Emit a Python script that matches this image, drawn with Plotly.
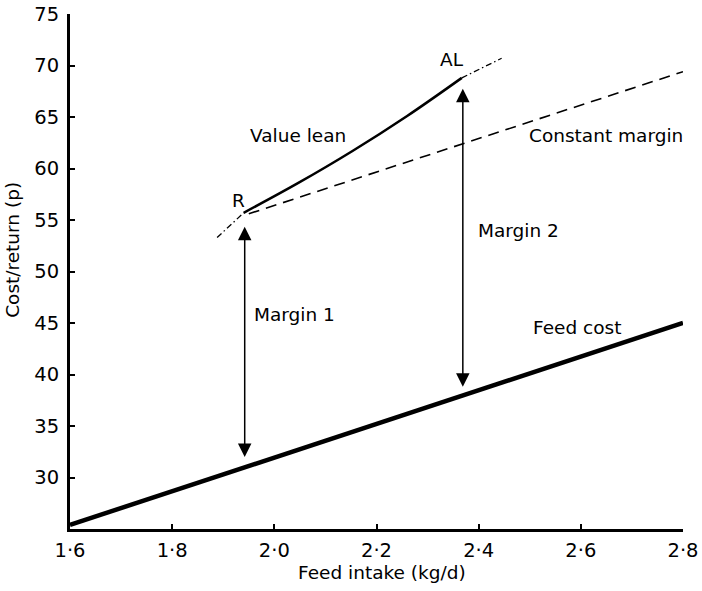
import plotly.graph_objects as go

# ---- data ----
x_ticks = [1.6, 1.8, 2.0, 2.2, 2.4, 2.6, 2.8]
x_tick_labels = ["1·6", "1·8", "2·0", "2·2", "2·4", "2·6", "2·8"]
y_ticks = [30, 35, 40, 45, 50, 55, 60, 65, 70, 75]

feed_cost_x = [1.6, 2.8]
feed_cost_y = [25.4, 45.0]

value_lean_x = [1.94, 2.047, 2.153, 2.26, 2.367]
value_lean_y = [55.7, 58.6, 61.7, 65.1, 68.8]

ext_low_x = [1.888, 1.94]
ext_low_y = [53.3, 55.7]
ext_high_x = [2.367, 2.445]
ext_high_y = [68.8, 70.7]

const_margin_x = [1.95, 2.8]
const_margin_y = [55.6, 69.4]

margin1_x = 1.942
margin1_top, margin1_bottom = 54.5, 32.0
margin2_x = 2.369
margin2_top, margin2_bottom = 67.9, 38.8

labels = [
    ("AL", 2.348, 70.6),
    ("R", 1.929, 56.9),
    ("Value lean", 2.046, 63.2),
    ("Constant margin", 2.649, 63.2),
    ("Margin 2", 2.477, 54.0),
    ("Margin 1", 2.040, 45.8),
    ("Feed cost", 2.592, 44.6),
]

FONT = "DejaVu Sans"
TXT = 18.5
TICK = 19.5

fig = go.Figure()
fig.add_trace(go.Scatter(x=feed_cost_x, y=feed_cost_y, mode="lines",
                         line=dict(color="black", width=4.5), hoverinfo="skip"))
fig.add_trace(go.Scatter(x=value_lean_x, y=value_lean_y, mode="lines",
                         line=dict(color="black", width=2.5, shape="spline", smoothing=1.0),
                         hoverinfo="skip"))
for ex, ey in [(ext_low_x, ext_low_y), (ext_high_x, ext_high_y)]:
    fig.add_trace(go.Scatter(x=ex, y=ey, mode="lines",
                             line=dict(color="black", width=1.3, dash="6px,3px,1.5px,3px"),
                             hoverinfo="skip"))
fig.add_trace(go.Scatter(x=const_margin_x, y=const_margin_y, mode="lines",
                         line=dict(color="black", width=1.6, dash="11px,7px"), hoverinfo="skip"))

annotations = []
for mx, top, bot in [(margin1_x, margin1_top, margin1_bottom),
                     (margin2_x, margin2_top, margin2_bottom)]:
    annotations.append(dict(x=mx, y=bot, ax=mx, ay=top, xref="x", yref="y",
                            axref="x", ayref="y", text="", showarrow=True,
                            arrowhead=2, startarrowhead=2, arrowside="end+start",
                            arrowsize=1.8, startarrowsize=1.8, arrowwidth=1.5,
                            arrowcolor="black", standoff=0, startstandoff=0))
for txt, lx, ly in labels:
    annotations.append(dict(x=lx, y=ly, xref="x", yref="y", text=txt, showarrow=False,
                            font=dict(family=FONT, size=TXT, color="black"),
                            xanchor="center", yanchor="middle"))
annotations.append(dict(x=0.509, y=-0.0854, xref="paper", yref="paper",
                        text="Feed intake (kg/d)", showarrow=False,
                        font=dict(family=FONT, size=TXT, color="black"),
                        xanchor="center", yanchor="middle"))
annotations.append(dict(x=-0.093, y=0.542, xref="paper", yref="paper",
                        text="Cost/return (p)", showarrow=False, textangle=-90,
                        font=dict(family=FONT, size=TXT, color="black"),
                        xanchor="center", yanchor="middle"))

fig.update_layout(
    width=702, height=591,
    margin=dict(l=70, r=19, t=14, b=62, autoexpand=False),
    paper_bgcolor="white", plot_bgcolor="white",
    showlegend=False,
    annotations=annotations,
    font=dict(family=FONT, size=TXT, color="black"),
)
fig.update_xaxes(range=[1.6, 2.8], tickvals=x_ticks, ticktext=x_tick_labels,
                 showgrid=False, zeroline=False, showline=True, linecolor="black",
                 linewidth=3, ticks="inside", ticklen=5, tickwidth=2, tickcolor="black",
                 automargin=False, ticklabelstandoff=2, ticklabeloverflow="allow",
                 tickfont=dict(family=FONT, size=TICK, color="black"))
fig.update_yaxes(range=[25, 75], tickvals=y_ticks,
                 showgrid=False, zeroline=False, showline=True, linecolor="black",
                 linewidth=3, ticks="inside", ticklen=5, tickwidth=2, tickcolor="black",
                 automargin=False, ticklabelstandoff=4, ticklabeloverflow="allow",
                 tickfont=dict(family=FONT, size=TICK, color="black"))

# remove the browser's default 8px body margin so the figure sits at the page origin
fig.write_html("out.html",
               config={"displayModeBar": False, "staticPlot": True},
               post_script="document.body.style.margin='0';document.body.style.overflow='hidden';")
